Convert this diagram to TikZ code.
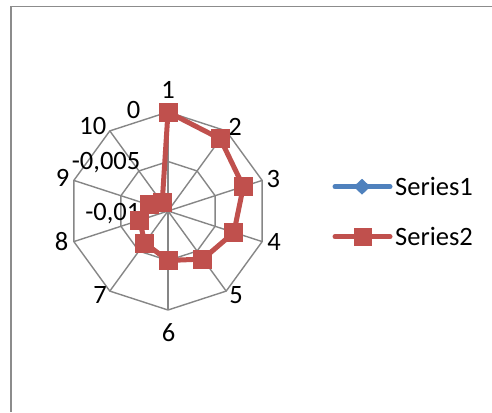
\documentclass[tikz,border=0pt]{standalone}
\usepackage{fontspec}
\setmainfont{Carlito}
\usetikzlibrary{calc,shapes.geometric}
\definecolor{serred}{HTML}{C0504D}
\definecolor{serblue}{HTML}{4F81BD}
\definecolor{gridgray}{HTML}{868686}
\definecolor{framegray}{HTML}{8C8C8C}
\begin{document}
\begin{tikzpicture}[x=1bp,y=1bp,
  gridline/.style={draw=gridgray,line width=1.4bp},
  frameline/.style={draw=framegray,line width=1.8bp},
  sertwo/.style={draw=serred,line width=5bp,line join=round,line cap=round},
  serone/.style={draw=serblue,line width=5bp,line cap=round},
  sqmark/.style={rectangle,fill=serred,minimum size=19bp,inner sep=0pt},
  diamark/.style={diamond,fill=serblue,minimum width=17bp,minimum height=16bp,inner sep=0pt},
  lab/.style={font=\fontsize{26.5bp}{30bp}\selectfont,inner sep=0pt,text=black}]
\useasboundingbox (0,0) rectangle (492,412);
\fill[white] (0,0) rectangle (492,412);
% frame
\coordinate (fr1) at (492,405.5);
\coordinate (fr2) at (11,405.5);
\coordinate (fr3) at (11,0);
\draw[frameline] (fr1) -- (fr2) -- (fr3);
% grid
\coordinate (c) at (168,201);
\foreach \i in {1,...,10} {
  \coordinate (v\i) at ($(c)+({90-36*(\i-1)}:99)$);
  \coordinate (h\i) at ($(c)+({90-36*(\i-1)}:49.5)$);
}
\foreach \i in {1,...,10} { \draw[gridline] (c) -- (v\i); }
\draw[gridline] (v1) -- (v2) -- (v3) -- (v4) -- (v5) -- (v6) -- (v7) -- (v8) -- (v9) -- (v10) -- cycle;
\draw[gridline] (h1) -- (h2) -- (h3) -- (h4) -- (h5) -- (h6) -- (h7) -- (h8) -- (h9) -- (h10) -- cycle;
% category labels
\node[lab] (l1) at (168,322) {1};
\node[lab] (l2) at (235,285.3) {2};
\node[lab] (l3) at (273.3,233) {3};
\node[lab] (l4) at (274,170.3) {4};
\node[lab] (l5) at (236,117) {5};
\node[lab] (l6) at (168.5,79.5) {6};
\node[lab] (l7) at (100,117) {7};
\node[lab] (l8) at (61.7,170.3) {8};
\node[lab] (l9) at (62.5,233.7) {9};
\node[lab] (l10) at (92.8,286.2) {10};
% value axis labels
\node[lab,anchor=base east] (t0) at (140.5,293.6) {0};
\node[lab,anchor=base east] (t1) at (140.5,242.4) {-0,005};
\node[lab,anchor=base east] (t2) at (140.5,191.9) {-0,01};
% series 2
\foreach \i/\f in {1/1.0,2/0.9,3/0.8,4/0.7,5/0.6,6/0.5,7/0.4,8/0.3,9/0.2,10/0.1} {
  \coordinate (p\i) at ($(c)+({90-36*(\i-1)}:{99*\f})$);
}
\draw[sertwo] (p1) -- (p2) -- (p3) -- (p4) -- (p5) -- (p6) -- (p7) -- (p8) -- (p9) -- (p10) -- cycle;
\foreach \i in {1,...,10} { \node[sqmark] (m\i) at (p\i) {}; }
% legend
\coordinate (a1) at (335,225.3);
\coordinate (b1) at (390,225.3);
\draw[serone] (a1) -- (b1);
\node[diamark] (d1) at (362,225.3) {};
\node[lab,anchor=west] (s1) at (395,225.3) {Series1};
\coordinate (a2) at (335,175.3);
\coordinate (b2) at (390,175.3);
\draw[sertwo] (a2) -- (b2);
\node[sqmark,minimum size=18bp] (d2) at (362.5,175.3) {};
\node[lab,anchor=west] (s2) at (395,175.3) {Series2};
\end{tikzpicture}
\end{document}
